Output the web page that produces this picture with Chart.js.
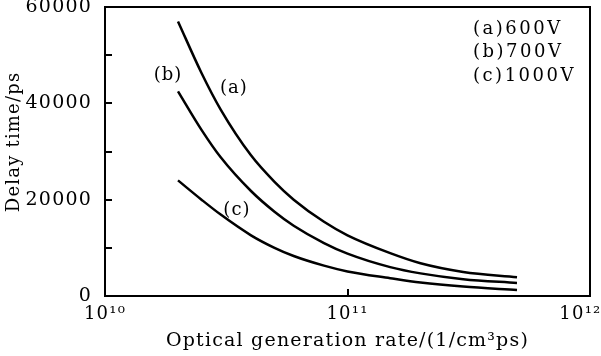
<!DOCTYPE html>
<html>
<head>
<meta charset="utf-8">
<script src="https://cdn.jsdelivr.net/npm/chart.js@4"></script>
<style>
  body { margin: 0; background: #fff; }
</style>
</head>
<body>
<canvas id="chart" width="601" height="356"></canvas>
<script>
// values
const rates = [2e10, 2.5e10, 3e10, 4e10, 5e10, 6e10, 8e10, 1e11, 1.5e11, 2e11, 3e11, 5e11];
const delay600 = [57000, 46300, 38700, 29200, 23700, 20000, 15400, 12600, 8900, 6800, 5000, 3900];
const delay700 = [42500, 34500, 28800, 21800, 17500, 14600, 11000, 8800, 6000, 4700, 3500, 2700];
const delay1000 = [24000, 20000, 16900, 12600, 10000, 8300, 6300, 5100, 3700, 2800, 1950, 1250];
const seriesNames = ['(a)600V', '(b)700V', '(c)1000V'];
const curveTags = ['(a)', '(b)', '(c)'];
const xTicks = [1e10, 1e11, 1e12];
const xTickLabels = ['10¹⁰', '10¹¹', '10¹²'];
const yTicks = [0, 20000, 40000, 60000];
const yMinorStep = 10000;

const FONT = 'DejaVu Serif';

function series(values) {
  return rates.map((r, i) => ({ x: r, y: values[i] }));
}

// where the (a)/(b)/(c) tags sit, in data units
const tagAt = [[3.4e10, 43200], [1.82e10, 45900], [3.5e10, 17850]];

const framePlugin = {
  id: 'frame',
  beforeDraw(chart) {
    // the scanned figure uses widely spaced lettering
    chart.ctx.letterSpacing = '1.2px';
  },
  afterDraw(chart) {
    const ctx = chart.ctx;
    const a = chart.chartArea;
    const xs = chart.scales.x, ys = chart.scales.y;
    ctx.save();
    ctx.strokeStyle = '#000';
    ctx.lineWidth = 2;
    ctx.strokeRect(a.left, a.top, a.right - a.left, a.bottom - a.top);

    // inward ticks
    ctx.beginPath();
    for (let v = yMinorStep; v < 60000; v += yMinorStep) {
      const py = Math.round(ys.getPixelForValue(v));
      ctx.moveTo(a.left, py);
      ctx.lineTo(a.left + 7, py);
    }
    const px = Math.round(xs.getPixelForValue(1e11));
    ctx.moveTo(px, a.bottom);
    ctx.lineTo(px, a.bottom - 7);
    ctx.stroke();

    // curve tags
    ctx.fillStyle = '#000';
    ctx.font = '18px "' + FONT + '"';
    ctx.letterSpacing = '1px';
    ctx.textAlign = 'center';
    ctx.textBaseline = 'middle';
    curveTags.forEach((t, i) => {
      ctx.fillText(t, xs.getPixelForValue(tagAt[i][0]), ys.getPixelForValue(tagAt[i][1]));
    });

    // legend text, top right
    ctx.letterSpacing = '2.5px';
    ctx.textAlign = 'left';
    seriesNames.forEach((s, i) => {
      ctx.fillText(s, a.right - 117, a.top + 22 + i * 23.5);
    });
    ctx.restore();
  }
};

new Chart(document.getElementById('chart'), {
  type: 'line',
  data: {
    datasets: [
      { label: seriesNames[0], data: series(delay600) },
      { label: seriesNames[1], data: series(delay700) },
      { label: seriesNames[2], data: series(delay1000) }
    ]
  },
  options: {
    responsive: false,
    animation: false,
    devicePixelRatio: 1,
    layout: { padding: { top: 7, right: 11, left: 0, bottom: 0 } },
    elements: {
      line: { borderColor: '#000', borderWidth: 2.5, cubicInterpolationMode: 'monotone', fill: false },
      point: { radius: 0 }
    },
    plugins: { legend: { display: false }, tooltip: { enabled: false } },
    scales: {
      x: {
        type: 'logarithmic',
        min: 1e10,
        max: 1e12,
        grid: { display: false },
        border: { display: false },
        afterBuildTicks: s => { s.ticks = xTicks.map(v => ({ value: v })); },
        afterFit: s => { s.height = 60; s.paddingLeft = 0; s.paddingRight = 0; },
        ticks: {
          color: '#000',
          padding: 0,
          maxRotation: 0,
          autoSkip: false,
          font: { family: FONT, size: 18 },
          // last label is nudged left so it stays on the page
          callback: v => {
            const i = xTicks.indexOf(v);
            return i === xTicks.length - 1 ? xTickLabels[i] + '\u2003' : xTickLabels[i];
          }
        },
        title: {
          display: true,
          text: 'Optical generation rate/(1/cm³ps)',
          color: '#000',
          font: { family: FONT, size: 19 },
          padding: { top: 0, bottom: 4 }
        }
      },
      y: {
        min: 0,
        max: 60000,
        grid: { display: false },
        border: { display: false },
        afterBuildTicks: s => { s.ticks = yTicks.map(v => ({ value: v })); },
        afterFit: s => { s.width = 105; s.paddingTop = 0; s.paddingBottom = 0; },
        ticks: {
          color: '#000',
          padding: 5,
          font: { family: FONT, size: 19 },
          callback: v => String(v)
        },
        title: {
          display: true,
          text: '\u2003Delay time/ps',
          color: '#000',
          font: { family: FONT, size: 18 },
          padding: { top: 4, bottom: 0 }
        }
      }
    }
  },
  plugins: [framePlugin]
});
</script>
</body>
</html>
